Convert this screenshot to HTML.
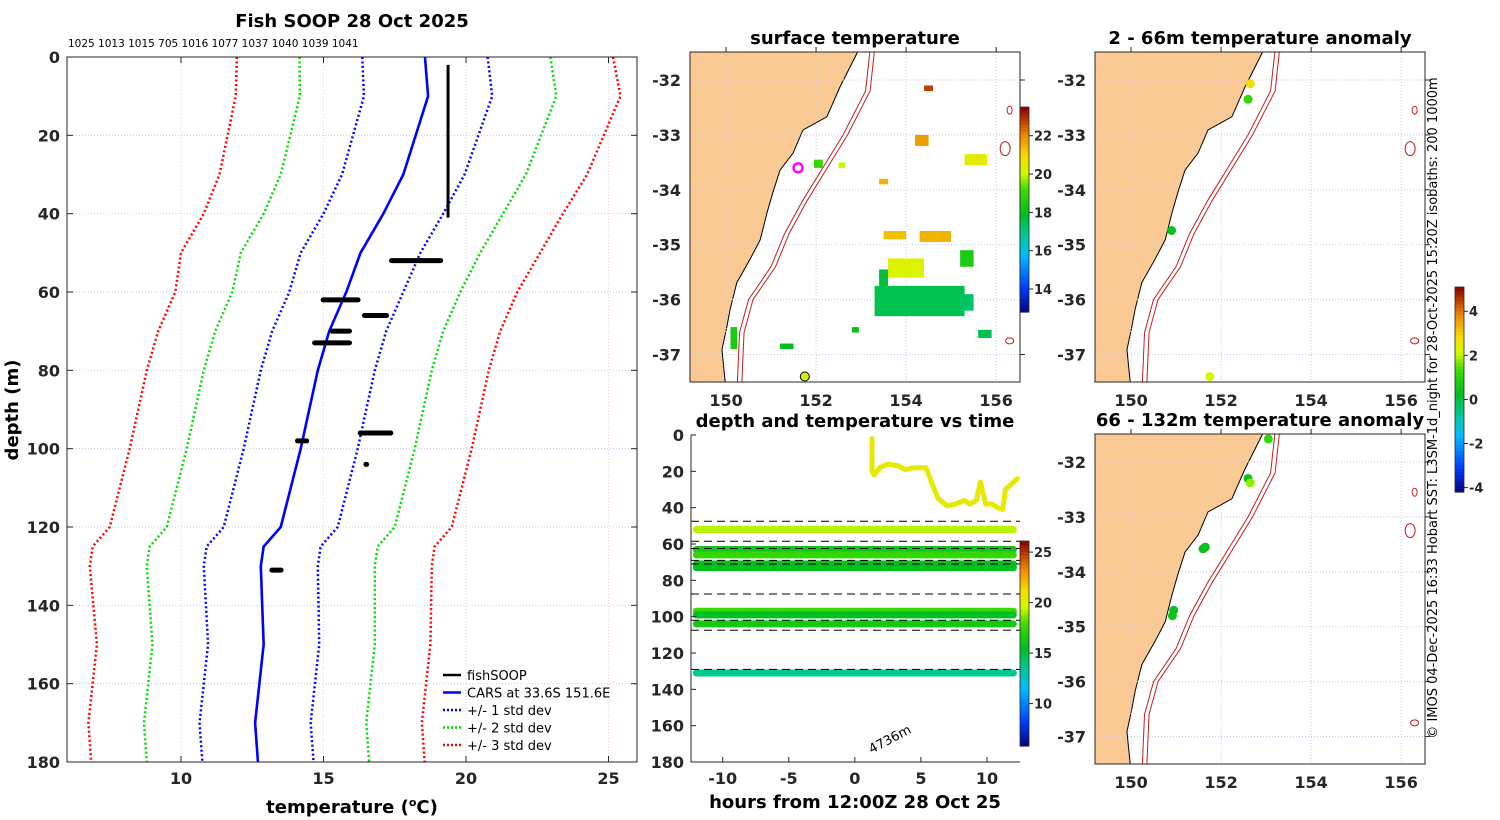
<!DOCTYPE html>
<html><head><meta charset="utf-8">
<style>
html,body{margin:0;padding:0;background:#fff;width:1500px;height:820px;overflow:hidden}
svg{display:block;font-family:"DejaVu Sans","Liberation Sans",sans-serif}
.tk{font-size:16px;font-weight:bold;fill:#262626}
.ttl{font-size:18px;font-weight:bold;fill:#000}
</style></head>
<body>
<svg id="fig" width="1500" height="820" viewBox="0 0 1500 820"></svg>
<script>
// ---------- data: profile panel ----------
const cDepth=[0,10,30,40,50,60,70,80,100,120,125,130,150,170,180];
const cMean=[18.56,18.67,17.8,17.1,16.3,15.8,15.2,14.8,14.2,13.5,12.9,12.8,12.9,12.6,12.7];
const cSd=[2.2,2.25,2.15,2.1,2.1,2.0,2.0,2.0,2.0,2.0,2.0,2.0,1.95,1.95,1.95];
const fsDepth=[52,62,66,70,73,96,98,104,131];
const fsTmin=[17.3,14.9,16.35,15.2,14.6,16.2,14.0,16.4,13.1];
const fsTmax=[19.2,16.3,17.3,16.0,16.0,17.45,14.5,16.6,13.6];
const fsVertT=19.37, fsVertTop=2, fsVertBot=41;
const profTempTicks=[10,15,20,25];
const profDepthTicks=[0,20,40,60,80,100,120,140,160,180];
const topLabels="1025 1013 1015 705 1016 1077 1037 1040 1039 1041";
// ---------- data: time panel ----------
const trT=[1.3,1.3,1.45,1.9,2.5,3.3,3.8,4.5,5.4,5.8,6.3,7.0,7.6,8.3,8.7,9.2,9.5,9.9,10.4,10.8,11.2,11.4,12.0,12.3];
const trD=[2,20,22,18,16,17,19,18,18,26,35,39,38,36,38,36,26,38,38,40,41,30,26,24];
const bandD=[52,63,66,71,73,97,99,104,131];
const bandT=[19.3,16.2,17.6,15.8,15.6,17.8,15.4,16.4,13.6];
const dashD=[47.5,58.5,62.5,69,71,87.5,102,107.5,129];
const timeTicks=[-10,-5,0,5,10];
const timeDepthTicks=[0,20,40,60,80,100,120,140,160,180];
const cb2Ticks=[10,15,20,25];
// ---------- data: maps ----------
const coastLon=[152.95,152.91,152.53,152.24,151.71,151.49,151.2,151.04,150.91,150.76,150.53,150.24,150.09,150.02,149.91,149.98,149.9];
const coastLat=[-31.45,-31.51,-32.13,-32.67,-32.91,-33.33,-33.64,-34.05,-34.42,-34.91,-35.27,-35.69,-36.18,-36.49,-36.91,-37.49,-37.6];
const isoLon=[153.2,153.1,152.6,152.3,151.7,151.3,151.0,150.5,150.3,150.25];
const isoLat=[-31.45,-32.2,-33.0,-33.4,-34.2,-34.8,-35.4,-36.0,-36.6,-37.55];
const sstLon=[153.3,153.6,154.2,155.3,154.3,153.5,154.7,154.4,155.2,153.4,155.2,152.5,151.95,153.4,150.1,151.2,152.8,155.6];
const sstLat=[-35.75,-35.25,-33.0,-33.35,-34.75,-34.75,-34.75,-32.1,-35.9,-35.45,-35.1,-33.5,-33.45,-33.8,-36.5,-36.8,-36.5,-36.55];
const sstW=[2.0,0.8,0.3,0.5,0.4,0.5,0.3,0.2,0.3,0.2,0.3,0.15,0.2,0.2,0.15,0.3,0.15,0.3];
const sstH=[0.55,0.35,0.2,0.2,0.2,0.15,0.2,0.1,0.3,0.3,0.3,0.1,0.15,0.1,0.4,0.1,0.1,0.15];
const sstV=[17.5,20.3,21.8,20.5,21.5,21.3,21.5,22.8,17.3,17.7,18.5,20.0,19.0,21.5,18.5,18.0,18.0,17.5];
const a1Lon=[152.65,152.6,150.9,151.75];
const a1Lat=[-32.07,-32.35,-34.74,-37.4];
const a1V=[2.8,1.2,0.3,2.2];
const a2Lon=[153.05,152.6,152.65,151.65,151.6,150.95,150.92];
const a2Lat=[-31.58,-32.3,-32.38,-33.55,-33.58,-34.7,-34.8];
const a2V=[1.2,0.4,1.8,0.4,0.4,0.4,0.5];
const lonTicks=[150,152,154,156];
const latTicks=[-32,-33,-34,-35,-36,-37];
const cb1Ticks=[14,16,18,20,22];
const cb3Ticks=[-4,-2,0,2,4];

const NS="http://www.w3.org/2000/svg";
const svg=document.getElementById('fig');
function mk(tag,at,parent){const e=document.createElementNS(NS,tag);for(const k in at)e.setAttribute(k,at[k]);(parent||svg).appendChild(e);return e;}
function txt(x,y,s,cls,anchor,parent){const e=mk('text',{x:x,y:y,class:cls,'text-anchor':anchor||'middle'},parent);e.textContent=s;return e;}
const cmS=[0,0.12,0.28,0.38,0.48,0.6,0.68,0.76,0.86,1];
const cmC=[[0,0,128],[0,60,255],[0,190,255],[0,200,150],[0,190,30],[60,220,0],[210,250,0],[245,220,0],[240,140,0],[140,0,0]];
function jet(v){v=Math.max(0,Math.min(1,v));let i=0;while(i<cmS.length-2&&v>cmS[i+1])i++;
 const f=(v-cmS[i])/(cmS[i+1]-cmS[i]);const a=cmC[i],b=cmC[i+1];
 return `rgb(${Math.round(a[0]+(b[0]-a[0])*f)},${Math.round(a[1]+(b[1]-a[1])*f)},${Math.round(a[2]+(b[2]-a[2])*f)})`;}

// ===== Panel 1: profile =====
const P={x0:67,x1:637,y0:57,y1:762,t0:6,t1:26,d0:0,d1:180};
const px=t=>P.x0+(t-P.t0)/(P.t1-P.t0)*(P.x1-P.x0);
const py=d=>P.y0+(d-P.d0)/(P.d1-P.d0)*(P.y1-P.y0);
const g1=mk('g',{});


profTempTicks.forEach(t=>{const l=mk('line',{x1:px(t),x2:px(t),y1:P.y0,y2:P.y1,stroke:'#f0c8c8','stroke-dasharray':'1,2','stroke-width':1},g1);
 
 mk('line',{x1:px(t),x2:px(t),y1:P.y0,y2:P.y0+6,stroke:'#262626'},g1);mk('line',{x1:px(t),x2:px(t),y1:P.y1,y2:P.y1-6,stroke:'#262626'},g1);
 const tt=txt(px(t),784,t,'tk','middle',g1);});
profDepthTicks.forEach(d=>{mk('line',{x1:P.x0,x2:P.x1,y1:py(d),y2:py(d),stroke:'#c8c8f0','stroke-dasharray':'1,2','stroke-width':1},g1);
 mk('line',{x1:P.x0,x2:P.x0+6,y1:py(d),y2:py(d),stroke:'#262626'},g1);mk('line',{x1:P.x1,x2:P.x1-6,y1:py(d),y2:py(d),stroke:'#262626'},g1);
 const tt=txt(60,py(d)+6,d,'tk','end',g1);});
function profLine(k,col,dash,w,name){const pts=cDepth.map((d,i)=>px(cMean[i]+k*cSd[i])+','+py(d)).join(' ');
 const l=mk('polyline',{points:pts,fill:'none',stroke:col,'stroke-width':w,'stroke-dasharray':dash||'none'},g1);
 }
[[3,'#ff0000'],[2,'#00dd00'],[1,'#0000ff']].forEach(([k,c])=>{profLine(-k,c,'2,2.5',2.5,'minus-'+k+'-sd-line');profLine(k,c,'2,2.5',2.5,'plus-'+k+'-sd-line');});
profLine(0,'#0000ff',null,2.6,'cars-mean-line');
const fv=mk('line',{x1:px(fsVertT),x2:px(fsVertT),y1:py(fsVertTop),y2:py(fsVertBot),stroke:'#000','stroke-width':3},g1);

fsDepth.forEach((d,i)=>{const r=mk('rect',{x:px(fsTmin[i]),y:py(d)-2.5,width:px(fsTmax[i])-px(fsTmin[i]),height:5,rx:2.5,fill:'#000'},g1);
 });
mk('rect',{x:P.x0,y:P.y0,width:P.x1-P.x0,height:P.y1-P.y0,fill:'none',stroke:'#262626','stroke-width':1},g1);
let t1=txt(352,27,'Fish SOOP 28 Oct 2025','ttl','middle',g1);
let tl=txt(68,47,topLabels,'','start',g1);tl.setAttribute('style','font-size:10.5px;fill:#000');
let xl=mk('text',{x:352,y:813,class:'ttl','text-anchor':'middle'},g1);xl.innerHTML='temperature (<tspan dy="-7" font-size="11">o</tspan><tspan dy="7">C)</tspan>';

let yl=txt(0,0,'depth (m)','ttl','middle',g1);yl.setAttribute('transform','translate(18,410) rotate(-90)');
// legend
const lg=mk('g',{},g1);
[['fishSOOP','#000',null],['CARS at 33.6S 151.6E','#0000ff',null],['+/- 1 std dev','#0000ff','2,2'],['+/- 2 std dev','#00dd00','2,2'],['+/- 3 std dev','#ff0000','2,2']].forEach((e,i)=>{
 const y=675+i*17.5;const gi=mk('g',{},lg);
 mk('line',{x1:443,x2:461,y1:y,y2:y,stroke:e[1],'stroke-width':2.5,'stroke-dasharray':e[2]||'none'},gi);
 const t=txt(467,y+5,e[0],'','start',gi);t.setAttribute('style','font-size:13px;fill:#000');});

// ===== Map helpers =====
function mapPanel(ox,oy,name,title,titleX){
 const M={x0:ox,x1:ox+330,y0:oy,y1:oy+330,l0:149.2,l1:156.53,a0:-31.49,a1:-37.5};
 const mx=l=>M.x0+(l-M.l0)/(M.l1-M.l0)*330, my=a=>M.y0+(a-M.a0)/(M.a1-M.a0)*330;
 const g=mk('g',{});
 const cid='clip'+ox+oy;const cp=mk('clipPath',{id:cid},g);mk('rect',{x:M.x0,y:M.y0,width:330,height:330},cp);
 const inner=mk('g',{'clip-path':`url(#${cid})`},g);
 let pts=`${M.x0-5},${M.y0-5} `+coastLon.map((l,i)=>mx(l)+','+my(coastLat[i])).join(' ')+` ${M.x0-5},${M.y1+5}`;
 const land=mk('polygon',{points:pts,fill:'#fbc994',stroke:'#000','stroke-width':1},inner);
 
 lonTicks.forEach(l=>mk('line',{x1:mx(l),x2:mx(l),y1:M.y0,y2:M.y1,stroke:'#c8c8e8','stroke-dasharray':'1,2'},inner));
 latTicks.forEach(a=>mk('line',{x1:M.x0,x2:M.x1,y1:my(a),y2:my(a),stroke:'#c8c8e8','stroke-dasharray':'1,2'},inner));
 [0,0.1].forEach((o,j)=>{const il=mk('polyline',{points:isoLon.map((l,i)=>mx(l+o)+','+my(isoLat[i])).join(' '),fill:'none',stroke:'#c02020','stroke-width':1},inner);
  });
 [[156.3,-32.55,2.5,4],[156.2,-33.25,5,7],[156.3,-36.75,4,3]].forEach(s=>mk('ellipse',{cx:mx(s[0]),cy:my(s[1]),rx:s[2],ry:s[3],fill:'none',stroke:'#c02020','stroke-width':1},inner));
 mk('rect',{x:M.x0,y:M.y0,width:330,height:330,fill:'none',stroke:'#262626'},g);
 lonTicks.forEach(l=>{const t=txt(mx(l),406+oy-52,l,'tk','middle',g);
  mk('line',{x1:mx(l),x2:mx(l),y1:M.y0,y2:M.y0-5,stroke:'#262626'},g);});
 latTicks.forEach(a=>{const t=txt(M.x0-9,my(a)+6,a,'tk','end',g);
  mk('line',{x1:M.x1,x2:M.x1+5,y1:my(a),y2:my(a),stroke:'#262626'},g);});
 const tt=txt(titleX,oy-8,title,'ttl','middle',g);
 return {g:inner,mx:mx,my:my};
}
function colorbar(x,y0,y1,v0,v1,ticks,name){const g=mk('g',{});
 const n=60;for(let i=0;i<n;i++){const v=(i+0.5)/n;mk('rect',{x:x,y:y1-(i+1)*(y1-y0)/n,width:9,height:(y1-y0)/n+0.6,fill:jet(v)},g);}
 mk('rect',{x:x,y:y0,width:9,height:y1-y0,fill:'none',stroke:'#262626','stroke-width':0.8},g);
 ticks.forEach(t=>{const y=y1-(t-v0)/(v1-v0)*(y1-y0);mk('line',{x1:x+9,x2:x+13,y1:y,y2:y,stroke:'#262626'},g);
  const tt=txt(x+14,y+5,t,'','start',g);tt.setAttribute('style','font-size:13px;font-weight:bold;fill:#262626');});
 return g;}

// map 1: SST
const m1=mapPanel(690,52,'surface-temperature-map','surface temperature',855);
sstLon.forEach((l,i)=>{const r=mk('rect',{x:m1.mx(l),y:m1.my(sstLat[i]),width:sstW[i]*45,height:sstH[i]*55,fill:jet((sstV[i]-12.8)/(23.5-12.8))},m1.g);
 });
let mc=mk('circle',{cx:m1.mx(151.6),cy:m1.my(-33.6),r:4.5,fill:'none',stroke:'#ff00ff','stroke-width':2.5},m1.g);
let yc=mk('circle',{cx:m1.mx(151.75),cy:m1.my(-37.4),r:4.5,fill:'#d8f000',stroke:'#000','stroke-width':1},m1.g);
colorbar(1020,107,312,12.8,23.5,cb1Ticks,'sst-colorbar');

// map 2: anomaly 2-66
const m2=mapPanel(1095,52,'anomaly-2-66m-map','2 - 66m temperature anomaly',1260);
a1Lon.forEach((l,i)=>{const c=mk('circle',{cx:m2.mx(l),cy:m2.my(a1Lat[i]),r:4.5,fill:jet((a1V[i]+4.2)/9.3)},m2.g);});
// map 3: anomaly 66-132
const m3=mapPanel(1095,434,'anomaly-66-132m-map','66 - 132m temperature anomaly',1260);
a2Lon.forEach((l,i)=>{const c=mk('circle',{cx:m3.mx(l),cy:m3.my(a2Lat[i]),r:4.5,fill:jet((a2V[i]+4.2)/9.3)},m3.g);});
colorbar(1455,287,492,-4.2,5.1,cb3Ticks,'anomaly-colorbar');

// ===== time panel =====
const T={x0:691,x1:1020,y0:435,y1:762,h0:-12.4,h1:12.5};
const tx=h=>T.x0+(h-T.h0)/(T.h1-T.h0)*(T.x1-T.x0), ty=d=>T.y0+d/180*(T.y1-T.y0);
const g4=mk('g',{});
bandD.forEach((d,i)=>{const l=mk('line',{x1:tx(-12),x2:tx(12),y1:ty(d),y2:ty(d),stroke:jet((bandT[i]-5.8)/(26.1-5.8)),'stroke-width':7,'stroke-linecap':'round'},g4);
 });
dashD.forEach(d=>mk('line',{x1:T.x0,x2:T.x1,y1:ty(d),y2:ty(d),stroke:'#000','stroke-dasharray':'8,5','stroke-width':1},g4));
let tr=mk('polyline',{points:trT.map((t,i)=>tx(t)+','+ty(trD[i])).join(' '),fill:'none',stroke:'#e8e800','stroke-width':5,'stroke-linejoin':'round','stroke-linecap':'round'},g4);

mk('polyline',{points:`${T.x0},${T.y0} ${T.x0},${T.y1} ${T.x1},${T.y1}`,fill:'none',stroke:'#262626'},g4);
timeTicks.forEach(h=>{mk('line',{x1:tx(h),x2:tx(h),y1:T.y1,y2:T.y1-5,stroke:'#262626'},g4);const t=txt(tx(h),784,h,'tk','middle',g4);});
timeDepthTicks.forEach(d=>{mk('line',{x1:T.x0,x2:T.x0+5,y1:ty(d),y2:ty(d),stroke:'#262626'},g4);const t=txt(684,ty(d)+6,d,'tk','end',g4);});
let tt4=txt(855,427,'depth and temperature vs time','ttl','middle',g4);
let xl4=txt(855,808,'hours from 12:00Z 28 Oct 25','ttl','middle',g4);
let bd=txt(0,0,'4736m','','middle',g4);bd.setAttribute('style','font-size:13px;fill:#000');bd.setAttribute('transform',`translate(${tx(2.8)},743) rotate(-28)`);
colorbar(1020,541,746,5.8,26.1,cb2Ticks,'time-temp-colorbar');

// credit text
let cr=txt(0,0,'© IMOS 04-Dec-2025 16:33 Hobart SST: L3SM-1d_night for 28-Oct-2025 15:20Z isobaths: 200  1000m','','middle');
cr.setAttribute('style','font-size:13px;fill:#000');cr.setAttribute('transform','translate(1437,408) rotate(-90)');

</script>
</body></html>
